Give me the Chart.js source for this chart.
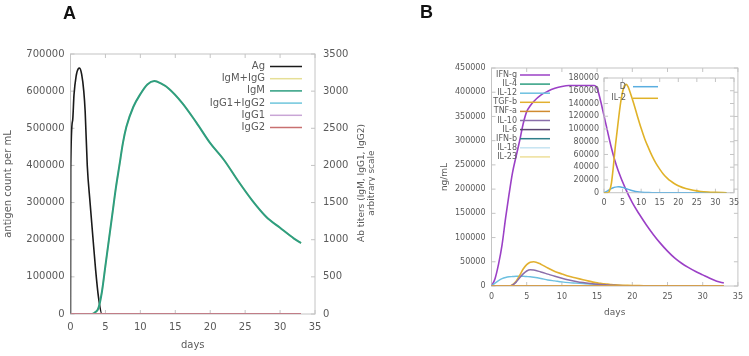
<!DOCTYPE html>
<html>
<head>
<meta charset="utf-8">
<script src="https://cdn.jsdelivr.net/npm/chart.js@4.4.0/dist/chart.umd.min.js"></script>
<style>
  body { margin: 0; background: #fff; }
  #wrap { position: relative; width: 749px; height: 356px; overflow: hidden; }
  canvas { position: absolute; }
  .panel { position: absolute; font: bold 18px "Liberation Sans", Arial, sans-serif; color: #111; }
</style>
</head>
<body>
<div id="wrap">
  <canvas id="chartA" width="375" height="356" style="left:0;top:0"></canvas>
  <canvas id="chartB" width="374" height="356" style="left:375px;top:0"></canvas>
  <canvas id="chartInset" width="185" height="150" style="left:560px;top:66px"></canvas>
  <div class="panel" style="left:63px;top:3px">A</div>
  <div class="panel" style="left:420px;top:2px">B</div>
</div>
<script>
// --- panel A: antigen and antibodies ---
const agDays = [0, 0.03, 0.3, 0.5, 0.8, 1.1, 1.3, 1.6, 1.9, 2.1, 2.4, 2.8, 3.2, 3.6, 4.0, 4.5, 33];
const agValues = [0, 390000, 520000, 590000, 640000, 660000, 662000, 645000, 600000, 545000, 400000, 300000, 208000, 118000, 46000, 0, 0];

const abDays = [0, 3, 3.5, 4, 4.5, 5, 5.5, 6, 6.5, 7, 7.5, 8, 9, 10, 11, 12, 13, 14, 16, 18, 20, 22, 24, 26, 28, 30, 32, 33];
const igmValues = [0, 0, 20, 80, 300, 650, 1000, 1350, 1700, 2000, 2300, 2520, 2790, 2960, 3090, 3135, 3100, 3040, 2840, 2580, 2300, 2070, 1790, 1530, 1310, 1160, 1015, 955];
// IgG is zero, so IgM+IgG is the same curve as IgM
const igmIggValues = [0, 0, 20, 80, 300, 650, 1000, 1350, 1700, 2000, 2300, 2520, 2790, 2960, 3090, 3135, 3100, 3040, 2840, 2580, 2300, 2070, 1790, 1530, 1310, 1160, 1015, 955];

const zeroDays = [0, 33];
const igg12Values = [0, 0];
const igg1Values = [0, 0];
const igg2Values = [0, 0];

// --- panel B: cytokines ---
const bDays = [0, 0.5, 1, 1.5, 2, 2.5, 3, 3.5, 4, 4.5, 5, 5.5, 6, 7, 8, 9, 10, 11, 12, 13, 14, 14.6, 15, 15.5, 16, 16.5, 17, 17.5, 18, 19, 20, 21, 22, 23, 24, 25, 26, 27, 28, 29, 30, 31, 32, 33];
const ifngValues = [0, 15000, 45000, 85000, 140000, 190000, 235000, 268000, 300000, 335000, 360000, 372000, 381000, 394000, 402000, 408000, 412000, 414000, 414000, 414000, 414000, 414000, 408000, 382000, 350000, 318000, 287000, 260000, 238000, 202000, 172000, 148000, 126000, 106000, 88000, 72000, 58000, 47000, 38000, 30000, 23000, 16000, 10000, 6000];
const tgfbValues = [0, 0, 0, 0, 0, 0, 3000, 10000, 22000, 35000, 44000, 49000, 50000, 45000, 37000, 30000, 25000, 20000, 16500, 13000, 9500, 7500, 6500, 5500, 4500, 3800, 3000, 2500, 2000, 1500, 1000, 700, 500, 300, 200, 100, 0, 0, 0, 0, 0, 0, 0, 0];
const il10Values = [0, 0, 0, 0, 0, 0, 2000, 8000, 17000, 25000, 31000, 33500, 33000, 29000, 24500, 20000, 16000, 12500, 9500, 7000, 5000, 4000, 3500, 3000, 2500, 2000, 1600, 1300, 1000, 600, 400, 200, 100, 0, 0, 0, 0, 0, 0, 0, 0, 0, 0, 0];
const il12Values = [0, 6000, 11000, 15000, 17500, 19000, 19500, 20000, 20000, 20000, 19500, 19000, 18000, 15500, 12500, 10500, 8500, 7000, 6000, 5000, 4000, 3500, 3000, 2600, 2200, 1800, 1500, 1200, 1000, 600, 400, 200, 100, 0, 0, 0, 0, 0, 0, 0, 0, 0, 0, 0];
const bZeroDays = [0, 33];
const il4Values = [0, 0];
const tnfaValues = [0, 0];
const il6Values = [0, 0];
const ifnbValues = [0, 0];
const il18Values = [0, 0];
const il23Values = [0, 0];

// --- inset: D and IL-2 ---
const insetDays = [0, 1, 1.5, 2, 2.5, 3, 3.5, 4, 4.5, 5, 5.5, 6, 6.5, 7, 8, 9, 10, 11, 12, 13, 14, 15, 16, 17, 18, 19, 20, 22, 24, 26, 28, 30, 33];
const il2Values = [0, 0, 3000, 15000, 40000, 70000, 95000, 120000, 142000, 158000, 168000, 170000, 166000, 158000, 140000, 120000, 101000, 84000, 70000, 57000, 46000, 37000, 29000, 23000, 18000, 14000, 11000, 6500, 3800, 2000, 1000, 500, 0];
const dValues = [0, 3000, 5000, 6500, 7800, 8700, 9200, 9300, 9000, 8300, 7400, 6300, 5200, 4200, 2700, 1600, 900, 500, 250, 100, 0, 0, 0, 0, 0, 0, 0, 0, 0, 0, 0, 0, 0];

const FONT = 'DejaVu Sans';
const TEXT = '#5a5a5a';

function series(days, values) {
    return days.map((d, i) => ({ x: d, y: values[i] }));
}

// plain numbers, no thousands separators (gnuplot style)
const plain = v => String(v);

// gnuplot-like border box with inward tick marks, drawn under the curves
const framePlugin = {
    id: 'gpFrame',
    beforeDatasetsDraw(chart) {
        const { ctx, chartArea: a, scales } = chart;
        ctx.save();
        ctx.strokeStyle = '#c4c4c4';
        ctx.lineWidth = 1;
        ctx.strokeRect(a.left, a.top, a.right - a.left, a.bottom - a.top);
        ctx.beginPath();
        scales.x.ticks.forEach(t => {
            const px = scales.x.getPixelForValue(t.value);
            ctx.moveTo(px, a.bottom); ctx.lineTo(px, a.bottom - 4);
            ctx.moveTo(px, a.top); ctx.lineTo(px, a.top + 4);
        });
        scales.y.ticks.forEach(t => {
            const py = scales.y.getPixelForValue(t.value);
            ctx.moveTo(a.left, py); ctx.lineTo(a.left + 4, py);
        });
        const rs = scales.y1 || scales.y;
        rs.ticks.forEach(t => {
            const py = rs.getPixelForValue(t.value);
            ctx.moveTo(a.right, py); ctx.lineTo(a.right - 4, py);
        });
        ctx.stroke();
        ctx.restore();
    }
};

// key: label right-aligned, line sample after it
const legendPlugin = {
    id: 'gpLegend',
    afterDatasetsDraw(chart, args, opts) {
        const ctx = chart.ctx;
        ctx.save();
        ctx.font = opts.size + 'px ' + FONT;
        ctx.textAlign = 'right';
        ctx.textBaseline = 'middle';
        chart.data.datasets.forEach((ds, i) => {
            const y = opts.y + i * opts.dy;
            ctx.fillStyle = TEXT;
            ctx.fillText(ds.label, opts.x, y);
            ctx.strokeStyle = ds.borderColor;
            ctx.lineWidth = 1.5;
            ctx.beginPath();
            ctx.moveTo(opts.x + opts.gap, y);
            ctx.lineTo(opts.x + opts.gap + opts.len, y);
            ctx.stroke();
        });
        ctx.restore();
    }
};

// right axis title reads bottom to top, like the left one
const rightTitlePlugin = {
    id: 'gpRightTitle',
    afterDraw(chart, args, opts) {
        if (!opts.lines) return;
        const ctx = chart.ctx;
        ctx.save();
        ctx.font = opts.size + 'px ' + FONT;
        ctx.fillStyle = TEXT;
        ctx.textAlign = 'center';
        ctx.textBaseline = 'middle';
        opts.lines.forEach((t, i) => {
            ctx.save();
            ctx.translate(opts.x + i * opts.dx, opts.y);
            ctx.rotate(-Math.PI / 2);
            ctx.fillText(t, 0, 0);
            ctx.restore();
        });
        ctx.restore();
    }
};

function line(label, data, color, width, order, axis) {
    return { label, data, borderColor: color, backgroundColor: color, borderWidth: width, order, yAxisID: axis || 'y', fill: false };
}

function axisFont(size) {
    return { family: FONT, size };
}

function baseOptions(padding) {
    return {
        responsive: false,
        animation: false,
        events: [],
        layout: { padding },
        elements: { point: { radius: 0 }, line: { cubicInterpolationMode: 'monotone' } },
        plugins: { legend: { display: false }, tooltip: { enabled: false } }
    };
}

// Panel A
const optsA = baseOptions({ left: 0, right: 0, top: 54, bottom: 0 });
optsA.plugins.gpLegend = { x: 265, y: 66.5, dy: 12.2, gap: 5, len: 32, size: 10 };
optsA.plugins.gpRightTitle = { lines: ['Ab titers (IgM, IgG1, IgG2)', 'arbitrary scale'], x: 362, dx: 10, y: 183, size: 9 };
optsA.scales = {
    x: {
        type: 'linear', min: 0, max: 35,
        ticks: { stepSize: 5, padding: 7, color: TEXT, font: axisFont(10), maxRotation: 0, callback: plain },
        grid: { display: false, drawTicks: false }, border: { display: false },
        title: { display: true, text: 'days', color: TEXT, font: axisFont(10), padding: { top: 0, bottom: 5 } },
        afterFit: s => { s.height = 42; }
    },
    y: {
        min: 0, max: 700000,
        ticks: { stepSize: 100000, padding: 6, color: TEXT, font: axisFont(10), callback: plain },
        grid: { display: false, drawTicks: false }, border: { display: false },
        title: { display: true, text: 'antigen count per mL', color: TEXT, font: axisFont(10), padding: { top: 2, bottom: 0 } },
        afterFit: s => { s.width = 70.5; }
    },
    y1: {
        position: 'right', min: 0, max: 3500,
        ticks: { stepSize: 500, padding: 8, color: TEXT, font: axisFont(10), callback: plain },
        grid: { display: false, drawTicks: false }, border: { display: false },
        afterFit: s => { s.width = 60; }
    }
};

new Chart(document.getElementById('chartA'), {
    type: 'line',
    data: {
        datasets: [
            line('Ag', series(agDays, agValues), '#1a1a1a', 1.6, 6),
            line('IgM+IgG', series(abDays, igmIggValues), '#e6df96', 1.5, 5, 'y1'),
            line('IgM', series(abDays, igmValues), '#2e9e80', 2, 4, 'y1'),
            line('IgG1+IgG2', series(zeroDays, igg12Values), '#6ec6dc', 1.5, 3, 'y1'),
            line('IgG1', series(zeroDays, igg1Values), '#c9a6d6', 1.5, 2, 'y1'),
            line('IgG2', series(zeroDays, igg2Values), '#c87070', 1.5, 1, 'y1')
        ]
    },
    options: optsA,
    plugins: [framePlugin, legendPlugin, rightTitlePlugin]
});

// Panel B
const optsB = baseOptions({ left: 0, right: 9, top: 68, bottom: 0 });
optsB.plugins.gpLegend = { x: 142, y: 75, dy: 9.1, gap: 3, len: 30, size: 8 };
optsB.scales = {
    x: {
        type: 'linear', min: 0, max: 35,
        ticks: { stepSize: 5, padding: 6, color: TEXT, font: axisFont(8), maxRotation: 0, callback: plain },
        grid: { display: false, drawTicks: false }, border: { display: false },
        title: { display: true, text: 'days', color: TEXT, font: axisFont(9), padding: { top: 0, bottom: 37.6 } },
        afterFit: s => { s.height = 70; }
    },
    y: {
        min: 0, max: 450000,
        ticks: { stepSize: 50000, padding: 6, color: TEXT, font: axisFont(8), callback: plain },
        grid: { display: false, drawTicks: false }, border: { display: false },
        title: { display: true, text: 'ng/mL', color: TEXT, font: axisFont(9), padding: { top: 64.6, bottom: 0 } },
        afterFit: s => { s.width = 116.5; }
    }
};

new Chart(document.getElementById('chartB'), {
    type: 'line',
    data: {
        datasets: [
            line('IFN-g', series(bDays, ifngValues), '#9b40c6', 1.6, 10),
            line('IL-4', series(bZeroDays, il4Values), '#2e9e80', 1.4, 9),
            line('IL-12', series(bDays, il12Values), '#6cc0e0', 1.4, 8),
            line('TGF-b', series(bDays, tgfbValues), '#e2b030', 1.6, 7),
            line('TNF-a', series(bZeroDays, tnfaValues), '#d08a30', 1.4, 0),
            line('IL-10', series(bDays, il10Values), '#8a6eaa', 1.5, 5),
            line('IL-6', series(bZeroDays, il6Values), '#5b4670', 1.4, 4),
            line('IFN-b', series(bZeroDays, ifnbValues), '#2f7f8a', 1.4, 3),
            line('IL-18', series(bZeroDays, il18Values), '#c6e4f2', 1.4, 2),
            line('IL-23', series(bZeroDays, il23Values), '#eedf9a', 1.4, 1)
        ]
    },
    options: optsB,
    plugins: [framePlugin, legendPlugin]
});

// Inset of panel B
const optsI = baseOptions({ left: 0, right: 11, top: 12, bottom: 0 });
optsI.plugins.gpLegend = { x: 66, y: 20.7, dy: 11.6, gap: 7, len: 25, size: 8 };
optsI.scales = {
    x: {
        type: 'linear', min: 0, max: 35,
        ticks: { stepSize: 5, padding: 5, color: TEXT, font: axisFont(8), maxRotation: 0, callback: plain },
        grid: { display: false, drawTicks: false }, border: { display: false },
        afterFit: s => { s.height = 23.3; }
    },
    y: {
        min: 0, max: 180000,
        ticks: { stepSize: 20000, padding: 5, color: TEXT, font: axisFont(8), callback: plain },
        grid: { display: false, drawTicks: false }, border: { display: false },
        afterFit: s => { s.width = 44; }
    }
};

new Chart(document.getElementById('chartInset'), {
    type: 'line',
    data: {
        datasets: [
            line('D', series(insetDays, dValues), '#5aaee0', 1.4, 2),
            line('IL-2', series(insetDays, il2Values), '#e0b228', 1.6, 1)
        ]
    },
    options: optsI,
    plugins: [framePlugin, legendPlugin]
});
</script>
</body>
</html>
